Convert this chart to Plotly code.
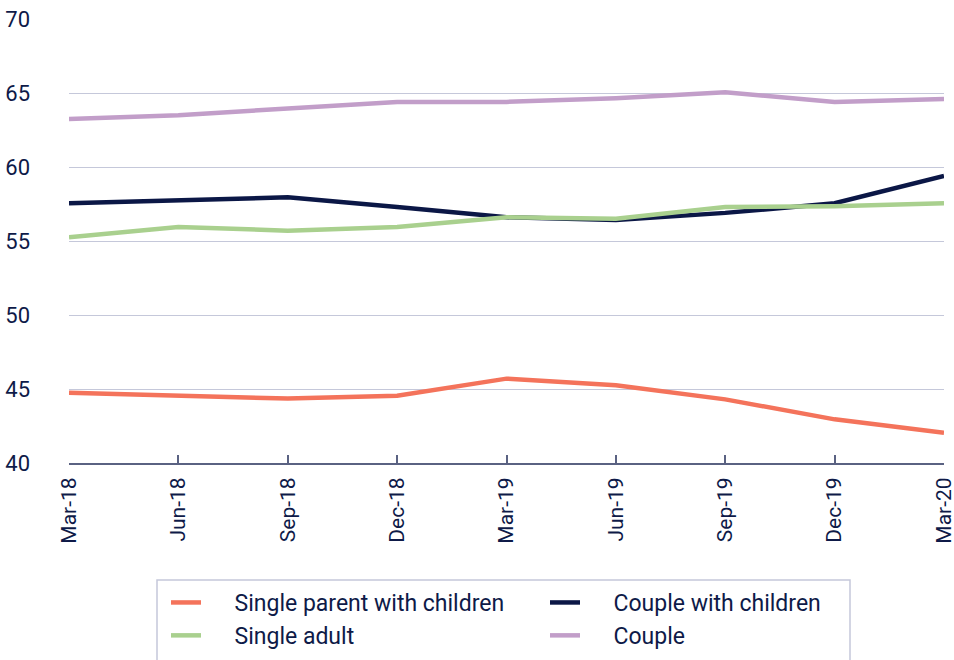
import plotly.graph_objects as go

quarters = ["Mar-18", "Jun-18", "Sep-18", "Dec-18", "Mar-19", "Jun-19", "Sep-19", "Dec-19", "Mar-20"]
single_parent = [44.75, 44.55, 44.35, 44.55, 45.7, 45.25, 44.3, 42.95, 42.05]
couple_children = [57.55, 57.75, 57.95, 57.3, 56.6, 56.42, 56.9, 57.55, 59.4]
single_adult = [55.25, 55.95, 55.7, 55.95, 56.6, 56.5, 57.3, 57.35, 57.55]
couple = [63.25, 63.5, 63.95, 64.4, 64.4, 64.65, 65.05, 64.4, 64.6]

series = [
    ("Single parent with children", single_parent, "#f4735b"),
    ("Couple with children", couple_children, "#0b1746"),
    ("Single adult", single_adult, "#a9d08e"),
    ("Couple", couple, "#c29ec9"),
]

navy = "#0e1a48"
pad = "\u00a0" * 5
fig = go.Figure()
for name, vals, col in series:
    fig.add_trace(go.Scatter(x=quarters, y=vals, name=pad + name, mode="lines",
                             line=dict(color=col, width=4.5)))

# plot area in pixels: x 69..944, y 19..463
W, H = 875, 444
fig.add_shape(type="rect", xref="paper", yref="paper",
              x0=(157 - 69) / W, x1=(850 - 69) / W,
              y0=(463 - 580) / H, y1=(463 - 670) / H,
              line=dict(color="#c5c8da", width=1.5), fillcolor="rgba(0,0,0,0)",
              layer="above")

fig.update_layout(
    width=954, height=660,
    margin=dict(l=69, r=10, t=19, b=197, autoexpand=False),
    paper_bgcolor="white", plot_bgcolor="white",
    font=dict(family="Roboto", color=navy, size=22),
    legend=dict(orientation="h", xref="container", yref="container",
                x=166/954, y=1-581/660, xanchor="left", yanchor="top",
                borderwidth=0, bgcolor="rgba(0,0,0,0)",
                entrywidth=334, entrywidthmode="pixels",
                font=dict(size=23, color=navy), tracegroupgap=0,
                itemwidth=30),
    showlegend=True,
)
fig.update_xaxes(
    type="category", range=[0, 8], tickangle=-90, automargin=False,
    showgrid=False, showline=True, linecolor="#5a6282", linewidth=2,
    ticks="inside", ticklen=8, tickcolor="#5a6282", tickwidth=1.5,
    tickfont=dict(size=21, color=navy), ticklabelstandoff=4,
)
fig.update_yaxes(
    range=[40, 70], dtick=5, showgrid=True, gridcolor="#c5c8da", gridwidth=1.2,
    zeroline=False, showline=False, ticks="", automargin=False,
    tickfont=dict(size=22, color=navy), ticklabelstandoff=38,
)
fig.write_html("out.html")
